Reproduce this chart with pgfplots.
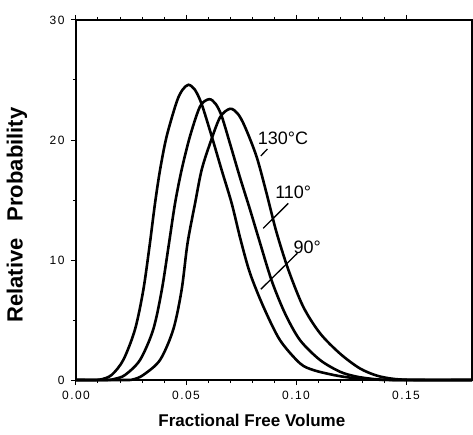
\documentclass[border=0pt]{standalone}
\usepackage{fontspec}
\setmainfont{Liberation Sans}
\newfontfamily\tickfont[LetterSpace=12]{Liberation Sans}
\usepackage{pgfplots}
\pgfplotsset{compat=1.18}

\begin{document}
\begin{tikzpicture}
\begin{axis}[
  scale only axis, width=396pt, height=360pt,
  at={(0,0)}, anchor=origin,
  xmin=0, xmax=0.18, ymin=0, ymax=30,
  enlargelimits=false,
  xtick={0,0.05,0.10,0.15}, minor x tick num=4,
  ytick={0,10,20,30}, minor y tick num=1,
  xtick pos=both, xticklabel pos=lower, ytick pos=left,
  tick align=outside,
  major tick length=5pt, minor tick length=3pt,
  every tick/.style={black, line width=1pt},
  axis line style={line width=1.5pt},
  /pgf/number format/assume math mode=true,
  xticklabel style={/pgf/number format/fixed, /pgf/number format/fixed zerofill, /pgf/number format/precision=2, yshift=-3pt},
  ticklabel style={font=\tickfont\fontsize{12}{14}\selectfont},
  yticklabel style={xshift=-3pt},
  xlabel={\fontsize{17}{20}\selectfont\bfseries Fractional Free Volume},
  xlabel style={at={(axis description cs:0.444,0)}, anchor=base, yshift=-46pt},
  ylabel={\fontsize{22}{26}\selectfont\bfseries Relative\hspace{0.5em} Probability},
  ylabel style={at={(axis description cs:-0.149,0.458)}, anchor=center},
  clip=false,
]
\pgfplotsset{curve/.style={black, line width=2.6pt, smooth, no marks}}
% 90 deg
\addplot[curve] coordinates {
(0,0) (0.009,0) (0.0115,0.05) (0.0162,0.42) (0.0215,1.67) (0.0268,4.2)
(0.0306,7.5) (0.0336,11.4) (0.0359,14.7) (0.0382,17.5) (0.0412,20.3)
(0.0458,23.2) (0.0485,24.2) (0.0511,24.6) (0.054,24.2) (0.0571,23.0)
(0.0617,20.3) (0.0662,17.5) (0.0708,14.7) (0.0748,11.7) (0.0791,8.9)
(0.0852,6.1) (0.0927,3.33) (0.1018,1.39) (0.1079,0.83) (0.117,0.42)
(0.1245,0.2) (0.135,0.05) (0.145,0) (0.18,0)};
% 110 deg
\addplot[curve] coordinates {
(0,0) (0.014,0) (0.0177,0.1) (0.0223,0.42) (0.0291,1.67) (0.0351,4.2)
(0.039,7.5) (0.0422,11.3) (0.045,14.7) (0.048,17.5) (0.0518,20.3)
(0.0564,22.8) (0.0605,23.4) (0.0635,23.0) (0.0662,22.0) (0.070,19.7)
(0.0745,16.9) (0.0791,14.2) (0.0832,11.7) (0.0889,8.3) (0.095,5.55)
(0.1018,3.33) (0.1109,1.67) (0.120,0.69) (0.1276,0.28) (0.137,0.05)
(0.147,0) (0.18,0)};
% 130 deg
\addplot[curve] coordinates {
(0,0) (0.022,0) (0.026,0.05) (0.0306,0.42) (0.0382,1.67) (0.0442,4.2)
(0.048,7.5) (0.0507,11.4) (0.0541,14.7) (0.0571,17.5) (0.0609,19.7)
(0.0655,21.9) (0.070,22.6) (0.0735,22.2) (0.0768,21.1) (0.0821,18.6)
(0.0867,15.5) (0.091,12.4) (0.0965,9.2) (0.1033,6.1) (0.1109,3.9)
(0.120,2.2) (0.129,0.97) (0.137,0.35) (0.145,0.08) (0.155,0) (0.18,0)};
\node[anchor=base west, font=\fontsize{18}{20}\selectfont, inner sep=0pt] at (axis cs:0.0826,19.6) {130°C};
\node[anchor=base west, font=\fontsize{18}{20}\selectfont, inner sep=0pt] at (axis cs:0.0905,15.14) {110°};
\node[anchor=base west, font=\fontsize{18}{20}\selectfont, inner sep=0pt] at (axis cs:0.0988,10.56) {90°};
\draw[line width=1.3pt] (axis cs:0.0840,18.67) -- (axis cs:0.0870,19.25);
\draw[line width=1.3pt] (axis cs:0.0965,14.72) -- (axis cs:0.0851,12.64);
\draw[line width=1.3pt] (axis cs:0.1006,10.56) -- (axis cs:0.0840,7.56);
\end{axis}
\pgfresetboundingbox
\path (-76pt,-54pt) rectangle (397pt,380pt);
\end{tikzpicture}
\end{document}
